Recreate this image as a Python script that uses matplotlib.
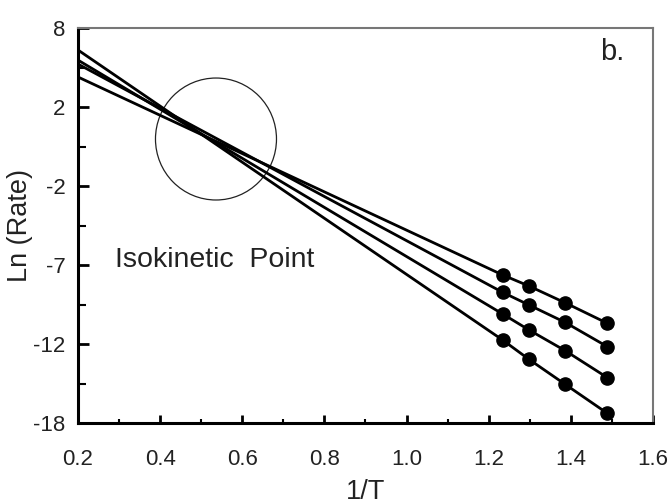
import matplotlib
matplotlib.use("Agg")
import matplotlib.pyplot as plt
from matplotlib.patches import Ellipse

plt.rcParams['font.family'] = ['Liberation Sans', 'DejaVu Sans']

# 1/T values of the measured points
inv_t = [1.234, 1.298, 1.386, 1.489]

# Ln(Rate) of each series (top to bottom at the right side)
rate_1 = [-7.63, -8.33, -9.39, -10.69]
rate_2 = [-8.73, -9.53, -10.63, -12.17]
rate_3 = [-10.10, -11.11, -12.42, -14.13]
rate_4 = [-11.75, -12.97, -14.55, -16.39]

# extrapolated line values at the left edge (1/T = 0.2)
x_start = 0.2
start_vals = [4.90, 5.72, 5.97, 6.61]

y_ticks = [8, 3, -2, -7, -12, -17]
y_tick_labels = ['8', '2', '-2', '-7', '-12', '-18']
x_ticks = [0.2, 0.4, 0.6, 0.8, 1.0, 1.2, 1.4, 1.6]
x_tick_labels = ['0.2', '0.4', '0.6', '0.8', '1.0', '1.2', '1.4', '1.6']

fig = plt.figure(figsize=(6.71, 5.04), dpi=100)
ax = fig.add_axes([0.1162, 0.1607, 0.857, 0.7837])

for y0, ys in zip(start_vals, [rate_1, rate_2, rate_3, rate_4]):
    ax.plot([x_start] + inv_t, [y0] + ys, color='black', lw=2.0)
    ax.plot(inv_t, ys, 'o', color='black', ms=9.5)

# isokinetic circle
ax.add_patch(Ellipse((0.536, 0.975), 0.2946, 7.72, fill=False,
                     edgecolor='#222222', lw=0.9))
ax.text(0.29, -7.13, 'Isokinetic  Point', fontsize=20.5, color='#222222',
        va='baseline', ha='left')
ax.text(1.47, 5.97, 'b.', fontsize=21, color='#222222', va='baseline', ha='left')

ax.set_xlim(0.2, 1.6)
ax.set_ylim(-17, 8)
ax.set_xticks(x_ticks)
ax.set_xticklabels(x_tick_labels)
ax.set_yticks(y_ticks)
ax.set_yticklabels(y_tick_labels)
ax.set_xticks([0.3, 0.5, 0.7, 0.9, 1.1, 1.3, 1.5], minor=True)
ax.set_yticks([5.5, 0.5, -4.5, -9.5, -14.5], minor=True)

ax.tick_params(axis='x', which='major', direction='in', length=6, width=2,
               pad=19, labelsize=16, labelcolor='#222222')
ax.tick_params(axis='x', which='minor', direction='in', length=3, width=1.5)
ax.tick_params(axis='y', which='major', direction='in', length=8, width=2,
               pad=9, labelsize=16, labelcolor='#222222')
ax.tick_params(axis='y', which='minor', direction='in', length=6, width=1.5)

ax.spines['left'].set_linewidth(2.2)
ax.spines['bottom'].set_linewidth(2.2)
ax.spines['top'].set_color('#777777')
ax.spines['right'].set_color('#777777')
ax.spines['top'].set_linewidth(1.5)
ax.spines['right'].set_linewidth(1.5)

ax.set_xlabel('1/T', fontsize=19.5, color='#222222', labelpad=6)
ax.set_ylabel('Ln (Rate)', fontsize=19.5, color='#222222', labelpad=0)

fig.savefig('out.png', dpi=100)
